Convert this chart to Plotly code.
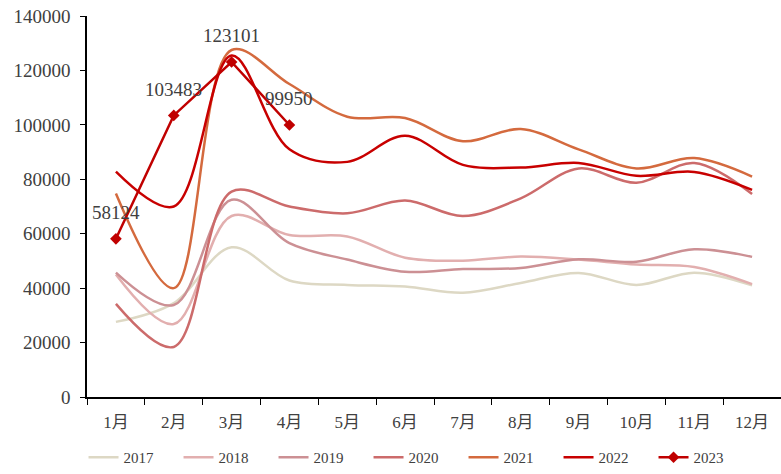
import plotly.graph_objects as go

months = ["1月", "2月", "3月", "4月", "5月", "6月", "7月", "8月", "9月", "10月", "11月", "12月"]

y2017 = [27600, 34500, 55000, 42800, 41200, 40600, 38300, 41900, 45600, 41200, 45700, 41000]
y2018 = [45000, 26800, 66500, 59500, 59000, 51200, 50100, 51600, 50500, 48700, 47800, 41500]
y2019 = [45700, 33800, 72500, 56500, 50500, 46000, 47000, 47400, 50600, 49700, 54300, 51500]
y2020 = [34200, 18400, 75500, 70000, 67500, 72200, 66500, 73000, 84000, 78700, 86000, 74600]
y2021 = [74800, 40000, 127500, 115000, 103000, 102500, 94000, 98500, 91000, 84000, 87800, 81000]
y2022 = [82800, 70000, 125500, 91000, 86400, 96000, 85300, 84300, 86000, 81300, 82700, 76100]
y2023 = [58124, 103483, 123101, 99950]

fig = go.Figure()

series = [
    ("2017", y2017, "#DDD8C4"),
    ("2018", y2018, "#E2AFAF"),
    ("2019", y2019, "#CC9094"),
    ("2020", y2020, "#CC6B6B"),
    ("2021", y2021, "#D46A3E"),
    ("2022", y2022, "#C80000"),
]
for name, vals, color in series:
    fig.add_trace(
        go.Scatter(
            x=months,
            y=vals,
            name=name,
            mode="lines",
            line=dict(color=color, width=2.5, shape="spline", smoothing=1.0),
        )
    )

font_main = "Liberation Serif, Noto Sans CJK SC, serif"

# 2023: straight segments with diamond markers
fig.add_trace(
    go.Scatter(
        x=months[: len(y2023)],
        y=y2023,
        name="2023",
        mode="lines+markers",
        line=dict(color="#C00000", width=2.5),
        marker=dict(symbol="diamond", size=9, color="#C00000"),
    )
)

# value labels sit well above the 2023 points
for m, v in zip(months, y2023):
    fig.add_annotation(
        x=m,
        y=v,
        text=str(v),
        showarrow=False,
        yshift=26,
        font=dict(size=19, color="#404040", family=font_main),
    )

fig.update_layout(
    width=781,
    height=474,
    plot_bgcolor="white",
    paper_bgcolor="white",
    margin=dict(l=87, r=0, t=16, b=77),
    font=dict(family=font_main, size=18, color="#404040"),
    xaxis=dict(
        type="category",
        range=[-0.5, 11.5],
        showline=True,
        linecolor="black",
        linewidth=1.5,
        ticks="outside",
        tickson="boundaries",
        ticklen=6,
        tickcolor="black",
        showgrid=False,
        automargin=False,
        ticklabelstandoff=9,
        tickfont=dict(size=17, family=font_main),
    ),
    yaxis=dict(
        range=[0, 140000],
        dtick=20000,
        showline=True,
        linecolor="black",
        linewidth=1.5,
        ticks="outside",
        ticklen=5,
        tickcolor="black",
        showgrid=False,
        zeroline=False,
        automargin=False,
        tickformat="d",
        ticklabelstandoff=6,
        tickfont=dict(size=19, family=font_main),
    ),
    legend=dict(
        orientation="h",
        x=-0.005,
        xanchor="left",
        y=-0.16,
        yanchor="middle",
        entrywidth=50,
        font=dict(size=15, family=font_main),
    ),
    showlegend=True,
)

# drop the browser's default body margin so the figure sits at the page origin
fig.write_html(
    "out.html",
    config={"displayModeBar": False},
    post_script="document.body.style.margin='0';",
)
